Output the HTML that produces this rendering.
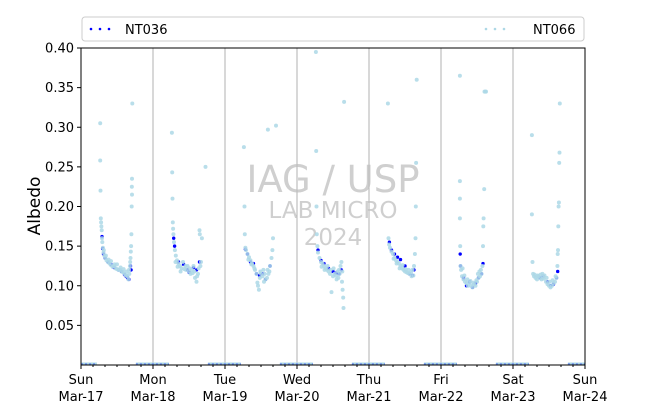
<!DOCTYPE html>
<html><head><meta charset="utf-8"><style>
body{margin:0;background:#fff;}
svg{display:block;font-family:"DejaVu Sans","Liberation Sans",sans-serif;}
</style></head><body>
<svg id="chart" width="650" height="409" viewBox="0 0 650 409">
<g id="grid"></g>
<g id="wm" fill="#bfbfbf" text-anchor="middle" opacity="0.75">
<text x="333" y="192" font-size="37">IAG / USP</text>
<text x="333" y="218" font-size="23">LAB MICRO</text>
<text x="333" y="245" font-size="23">2024</text>
</g>
<g id="marks"></g>
<rect x="81" y="48" width="504" height="317" fill="none" stroke="#000" stroke-width="1"/>
<g id="axes"></g>
<text transform="translate(40,206) rotate(-90)" text-anchor="middle" font-size="17">Albedo</text>
<g>
<rect x="82" y="17" width="502" height="24" rx="3" fill="#fff" stroke="#ccc"/>
<g>
<circle cx="91" cy="29" r="1.3" fill="#0000ff"/><circle cx="100" cy="29" r="1.3" fill="#0000ff"/><circle cx="109" cy="29" r="1.3" fill="#0000ff"/>
<text x="125" y="34" font-size="13">NT036</text></g>
<g>
<circle cx="486" cy="29" r="1.3" fill="#add8e6"/><circle cx="495" cy="29" r="1.3" fill="#add8e6"/><circle cx="504" cy="29" r="1.3" fill="#add8e6"/>
<text x="533" y="34" font-size="13">NT066</text></g>
</g>
</svg>
<script>
const dayLabels=["Sun","Mon","Tue","Wed","Thu","Fri","Sat","Sun"];
const dateLabels=["Mar-17","Mar-18","Mar-19","Mar-20","Mar-21","Mar-22","Mar-23","Mar-24"];
const yTicks=[0.05,0.10,0.15,0.20,0.25,0.30,0.35,0.40];
const nightSegments=[[-6,5.3],[18.3,29.3],[42.3,53.3],[66.3,77.3],[90.3,101.3],[114.3,125.3],[138.3,149.3],[162.3,168]];
// hours since Sun Mar-17 00:00, albedo
const nt066Day0=[[6.4,0.305],[6.4,0.258],[6.5,0.22],[6.6,0.185],[6.7,0.18],[6.8,0.175],[6.9,0.17],[7.0,0.16],[7.1,0.155],[7.3,0.148],[7.5,0.142],[7.8,0.138],[8.1,0.135],[8.5,0.132],[9,0.13],[9.5,0.128],[10,0.126],[10.5,0.124],[11,0.125],[11.5,0.122],[12,0.121],[12.5,0.12],[13,0.12],[13.5,0.118],[14,0.117],[14.5,0.115],[15,0.113],[15.5,0.112],[16,0.12],[16.3,0.125],[16.5,0.135],[16.6,0.143],[16.7,0.15],[16.8,0.165],[16.9,0.2],[17,0.215],[17,0.235],[17.1,0.33],[16.95,0.225],[15.8,0.108],[12,0.127],[10,0.131],[7.6,0.145],[8.3,0.138],[9.2,0.133],[11.2,0.127],[13.2,0.123],[14.2,0.121],[15.2,0.118],[16.1,0.115],[16.4,0.13]];
const nt066Day1=[[30.3,0.293],[30.4,0.243],[30.5,0.21],[30.6,0.18],[30.7,0.172],[30.8,0.165],[31,0.155],[31.3,0.145],[31.6,0.138],[32,0.132],[32.5,0.128],[33,0.125],[33.5,0.122],[34,0.13],[34.5,0.121],[35,0.12],[35.5,0.125],[36,0.118],[36.5,0.115],[37,0.12],[37.5,0.125],[38,0.11],[38.5,0.105],[39,0.115],[39.5,0.17],[39.6,0.165],[39.8,0.125],[40,0.13],[40.3,0.16],[41.5,0.25],[38.7,0.112],[37.2,0.116],[31.5,0.13],[32.2,0.124],[33.2,0.118],[34.8,0.125],[36.2,0.122],[37.8,0.118],[39.2,0.122]];
const nt066Day2=[[54.3,0.275],[54.5,0.2],[54.6,0.165],[54.8,0.148],[55,0.145],[55.5,0.14],[56,0.136],[56.5,0.132],[57,0.128],[57.5,0.125],[58,0.12],[58.5,0.115],[59,0.1],[59.3,0.095],[59.6,0.11],[60,0.115],[60.5,0.112],[61,0.105],[61.5,0.108],[62,0.11],[62.3,0.297],[62.5,0.115],[63,0.125],[63.5,0.135],[63.8,0.145],[64,0.16],[65,0.302],[60.8,0.12],[58.8,0.104],[55.8,0.133],[56.8,0.127],[57.8,0.122],[59.8,0.118],[61.2,0.115],[62.2,0.12],[62.8,0.118]];
const nt066Day3=[[78.3,0.395],[78.4,0.27],[78.5,0.2],[78.6,0.165],[78.8,0.15],[79,0.142],[79.5,0.135],[80,0.13],[80.5,0.128],[81,0.125],[81.5,0.122],[82,0.12],[82.5,0.118],[83,0.115],[83.5,0.092],[84,0.112],[84.5,0.115],[85,0.113],[85.5,0.118],[86,0.12],[86.5,0.125],[87,0.105],[87.2,0.095],[87.4,0.085],[87.5,0.072],[87.7,0.332],[86.8,0.13],[85.8,0.11],[80.2,0.124],[81.2,0.12],[82.2,0.125],[83.2,0.12],[84.2,0.122],[85.2,0.108],[86.2,0.115],[87.1,0.118]];
const nt066Day4=[[102.3,0.33],[102.5,0.16],[102.7,0.152],[103,0.148],[103.5,0.143],[104,0.14],[104.5,0.135],[105,0.132],[105.5,0.13],[106,0.128],[106.5,0.125],[107,0.122],[107.5,0.12],[108,0.118],[108.5,0.117],[109,0.116],[109.5,0.115],[110,0.117],[110.5,0.12],[111,0.125],[111.3,0.14],[111.5,0.16],[111.6,0.2],[111.7,0.255],[111.9,0.36],[110.8,0.113],[104.2,0.134],[105.2,0.128],[106.2,0.122],[107.2,0.126],[108.2,0.121],[109.2,0.12],[110.2,0.112]];
const nt066Day5=[[126.3,0.365],[126.3,0.232],[126.3,0.21],[126.3,0.185],[126.4,0.15],[126.5,0.125],[126.7,0.12],[127,0.112],[127.5,0.108],[128,0.105],[128.5,0.103],[129,0.1],[129.5,0.104],[130,0.1],[130.5,0.098],[131,0.102],[131.5,0.1],[132,0.105],[132.5,0.11],[133,0.112],[133.5,0.115],[133.8,0.125],[134,0.15],[134.1,0.175],[134.2,0.185],[134.4,0.222],[134.5,0.345],[134.8,0.345],[135,0.345],[127.2,0.122],[132.8,0.118],[127.8,0.113],[128.8,0.108],[129.8,0.106],[130.8,0.104],[131.8,0.107],[132.3,0.115],[133.3,0.12]];
const nt066Day6=[[150.3,0.29],[150.3,0.19],[150.5,0.13],[150.7,0.115],[151,0.112],[151.5,0.11],[152,0.108],[152.5,0.112],[153,0.11],[153.5,0.108],[154,0.111],[154.5,0.113],[155,0.105],[155.5,0.102],[156,0.1],[156.5,0.098],[157,0.1],[157.5,0.103],[158,0.105],[158.5,0.11],[158.8,0.125],[158.9,0.14],[159,0.145],[159.1,0.175],[159.2,0.2],[159.3,0.205],[159.4,0.255],[159.5,0.268],[159.6,0.33],[153.8,0.115],[151.2,0.114],[152.2,0.113],[153.2,0.114],[154.2,0.109],[155.2,0.11],[156.2,0.105],[157.2,0.107],[158.2,0.112]];
const nt036Day0=[[7.0,0.162],[7.2,0.147],[7.5,0.14],[8,0.135],[9,0.13],[10,0.127],[11,0.123],[12.5,0.12],[13.5,0.118],[14.5,0.114],[15,0.112],[15.5,0.11],[16,0.108],[16.5,0.125],[16.7,0.12]];
const nt036Day1=[[30.9,0.16],[31.2,0.15],[32.5,0.13],[34.2,0.127],[35.5,0.12],[36,0.117],[37.5,0.123],[38.5,0.12],[39.5,0.13]];
const nt036Day2=[[54.8,0.146],[55.5,0.14],[56.5,0.13],[57.5,0.128],[58.5,0.115],[59.5,0.113],[60.5,0.115],[61.5,0.108],[63,0.125]];
const nt036Day3=[[79,0.145],[80,0.132],[81,0.128],[82.5,0.122],[84,0.118],[85,0.116],[86,0.115],[86.8,0.12]];
const nt036Day4=[[102.8,0.155],[103.5,0.145],[104.5,0.14],[105.5,0.136],[106.5,0.133],[108,0.125],[109.5,0.115],[110.5,0.113],[111,0.12]];
const nt036Day5=[[126.4,0.14],[126.5,0.125],[127.5,0.11],[128.5,0.1],[129.5,0.105],[130.5,0.098],[131.5,0.103],[132.5,0.11],[133.5,0.115],[134,0.128]];
const nt036Day6=[[153,0.11],[154,0.112],[155.5,0.105],[156.5,0.1],[157.5,0.102],[158.5,0.11],[158.9,0.118]];

const X0=81,X1=585,Y0=365,Y1=48,HOURS=168,YMAX=0.40;
const xs=h=>X0+(h/HOURS)*(X1-X0);
const ys=v=>Y0-(v/YMAX)*(Y0-Y1);
const NS="http://www.w3.org/2000/svg";
function mk(tag,attrs,parent){const e=document.createElementNS(NS,tag);for(const k in attrs)e.setAttribute(k,attrs[k]);parent.appendChild(e);return e;}
const grid=document.getElementById('grid'),axes=document.getElementById('axes'),marks=document.getElementById('marks');
for(let d=1;d<7;d++){const l=mk('line',{x1:xs(d*24),x2:xs(d*24),y1:Y1,y2:Y0,stroke:'#b0b0b0','stroke-width':1},grid);

}
for(let d=0;d<dayLabels.length;d++){const x=xs(d*24);
mk('line',{x1:x,x2:x,y1:Y0,y2:Y0+4,stroke:'#000'},axes);
const t=mk('text',{x:x,y:384,'font-size':13,'text-anchor':'middle'},axes);t.textContent=dayLabels[d];


const t2=mk('text',{x:x,y:401,'font-size':13,'text-anchor':'middle'},axes);t2.textContent=dateLabels[d];

}
for(let h=4;h<HOURS;h+=4){if(h%24===0)continue;mk('line',{x1:xs(h),x2:xs(h),y1:Y0,y2:Y0+2,stroke:'#000'},axes);}
yTicks.forEach(v=>{const y=ys(v);mk('line',{x1:X0-4,x2:X0,y1:y,y2:y,stroke:'#000'},axes);
const t=mk('text',{x:X0-7,y:y+4.5,'font-size':13,'text-anchor':'end'},axes);t.textContent=v.toFixed(2);

});
nightSegments.forEach(s=>{const a=Math.max(0,s[0]),b=Math.min(HOURS,s[1]);
const l=mk('line',{x1:xs(a),x2:xs(b),y1:ys(0)-1,y2:ys(0)-1,stroke:'#add8e6','stroke-width':3},marks);


const l2=mk('line',{x1:xs(a),x2:xs(b),y1:ys(0)-1,y2:ys(0)-1,stroke:'#6f8ff0','stroke-width':1.5,'stroke-dasharray':'2 2'},marks);

});
const nt066=[nt066Day0,nt066Day1,nt066Day2,nt066Day3,nt066Day4,nt066Day5,nt066Day6];
const nt036=[nt036Day0,nt036Day1,nt036Day2,nt036Day3,nt036Day4,nt036Day5,nt036Day6];
nt036.forEach(day=>day.forEach(p=>{const c=mk('circle',{cx:xs(p[0]),cy:ys(p[1]),r:1.7,fill:'#0000ff'},marks);

}));
nt066.forEach(day=>day.forEach(p=>{const c=mk('circle',{cx:xs(p[0]),cy:ys(p[1]),r:2,fill:'#add8e6','fill-opacity':0.85},marks);

}));
</script>
</body></html>
